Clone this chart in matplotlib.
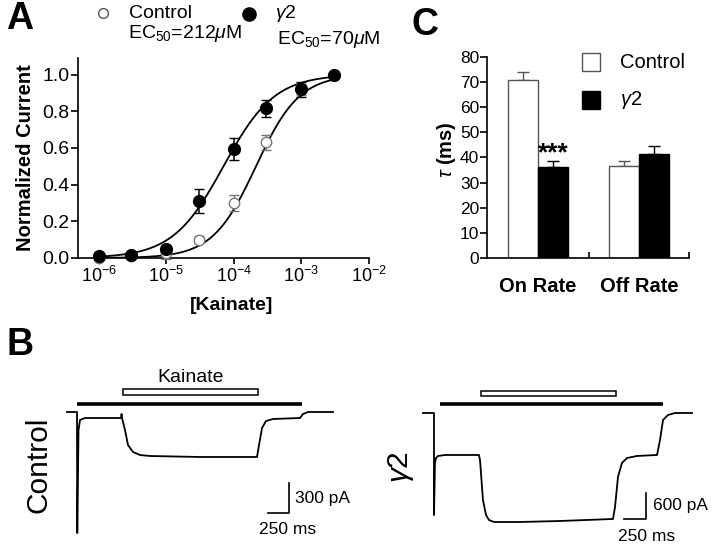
import numpy as np
import matplotlib
matplotlib.use("Agg")
import matplotlib.pyplot as plt
from matplotlib.patches import Rectangle
from matplotlib.lines import Line2D
from matplotlib.ticker import NullLocator, FormatStrFormatter

plt.rcParams['font.family'] = ['Liberation Sans', 'DejaVu Sans']
plt.rcParams['mathtext.fontset'] = 'custom'
plt.rcParams['mathtext.rm'] = 'Liberation Sans'
plt.rcParams['mathtext.it'] = 'Liberation Sans:italic'
plt.rcParams['mathtext.bf'] = 'Liberation Sans:bold'

# --- panel A: kainate concentration-response ---
conc = [1e-6, 3e-6, 1e-5, 3e-5, 1e-4, 3e-4, 1e-3, 3e-3]
ctrl_resp = [0.0, 0.01, 0.025, 0.10, 0.30, 0.63, 0.92, 1.0]
ctrl_err = [0.005, 0.005, 0.03, 0.02, 0.045, 0.04, 0.03, 0.0]
g2_resp = [0.01, 0.015, 0.05, 0.31, 0.595, 0.815, 0.92, 1.0]
g2_err = [0.005, 0.005, 0.01, 0.065, 0.06, 0.045, 0.04, 0.0]
ctrl_ec50, g2_ec50 = 212e-6, 70e-6
ctrl_hill, g2_hill = 1.35, 1.15

# --- panel C: time constants ---
rate_labels = ['On Rate', 'Off Rate']
tau_ctrl = [71.0, 36.8]
tau_ctrl_err = [3.2, 1.9]
tau_g2 = [36.1, 41.5]
tau_g2_err = [2.4, 3.1]

# --- panel B: example traces (ms, pA) ---
ctrl_t = [0, 119, 122, 137, 155, 214, 643, 649, 655, 690, 726, 785, 869, 988,
          1583, 2261, 2285, 2321, 2368, 2451, 2773, 2808, 2868, 3165]
ctrl_i = [0, 0, -1210, -180, -80, -60, -60, -20, -60, -180, -330, -400, -430, -440,
          -450, -450, -330, -160, -90, -70, -60, -20, 0, 0]
ctrl_perf = (119, 2797)
ctrl_kain = (666, 2273)

g2_t = [0, 127, 127, 138, 150, 173, 253, 645, 657, 691, 726, 760, 818, 1117,
        1578, 2189, 2212, 2246, 2292, 2350, 2465, 2696, 2730, 2765, 2822, 2903, 3099]
g2_i = [0, 0, -2354, -1154, -1039, -992, -969, -969, -1085, -2008, -2354, -2470, -2516, -2516,
        -2493, -2446, -2170, -1477, -1154, -1039, -992, -969, -623, -162, -46, 0, 0]
g2_perf = (196, 2765)
g2_kain = (668, 2223)

W, H = 720, 554


def fr(x0, y0, x1, y1):
    return [x0 / W, 1 - y1 / H, (x1 - x0) / W, (y1 - y0) / H]


def fp(x, y):
    return x / W, 1 - y / H


def hill(x, ec50, n):
    return 1.0 / (1.0 + (ec50 / x) ** n)


fig = plt.figure(figsize=(7.2, 5.54), dpi=100)

# panel A
axA = fig.add_axes(fr(78, 58, 369, 258))
axA.set_xscale('log')
xs = np.logspace(-6, np.log10(3e-3), 200)
axA.plot(xs, hill(xs, ctrl_ec50, ctrl_hill), color='black', lw=1.3, zorder=2)
axA.plot(xs, hill(xs, g2_ec50, g2_hill), color='black', lw=1.3, zorder=2)
axA.errorbar(conc, ctrl_resp, yerr=ctrl_err, fmt='o', mfc='white', mec='#777777',
             ecolor='#777777', ms=7.5, mew=1, capsize=3.5, elinewidth=1, zorder=3, clip_on=False)
axA.errorbar(conc, g2_resp, yerr=g2_err, fmt='o', mfc='black', mec='black',
             ecolor='black', ms=8.5, capsize=3.5, elinewidth=1.1, zorder=4, clip_on=False)
axA.set_xlim(10 ** -6.31, 1e-2)
axA.set_ylim(0, 1.09)
axA.set_xticks([1e-6, 1e-5, 1e-4, 1e-3, 1e-2])
axA.xaxis.set_minor_locator(NullLocator())
axA.set_yticks([0, 0.2, 0.4, 0.6, 0.8, 1.0])
axA.yaxis.set_major_formatter(FormatStrFormatter('%.1f'))
for s in ['top', 'right']:
    axA.spines[s].set_visible(False)
for s in ['left', 'bottom']:
    axA.spines[s].set_linewidth(1.2)
axA.tick_params(axis='y', direction='out', length=5, width=1.2, pad=1, labelsize=14)
axA.tick_params(axis='x', direction='out', length=4, width=1.2, pad=2, labelsize=13)

fig.text(*fp(20, 19), 'A', fontsize=27, fontweight='bold', ha='center', va='center')
fig.text(*fp(26, 158), 'Normalized Current', fontsize=14.5, fontweight='bold',
         rotation=90, ha='center', va='center')
fig.text(*fp(232, 306), '[Kainate]', fontsize=14, fontweight='bold', ha='center', va='center')

fig.add_artist(Line2D([103 / W], [1 - 13 / H], marker='o', ms=7, mfc='white',
                      mec='#555555', mew=1, transform=fig.transFigure))
fig.add_artist(Line2D([249 / W], [1 - 14 / H], marker='o', ms=9.5, mfc='black',
                      mec='black', transform=fig.transFigure))
fig.text(*fp(129, 13), 'Control', fontsize=14, ha='left', va='center')
fig.text(*fp(128, 33), r'EC$_{50}$=212$\mu$M', fontsize=14, ha='left', va='center')
fig.text(*fp(275, 14), r'$\gamma$2', fontsize=14, ha='left', va='center')
fig.text(*fp(277, 40), r'EC$_{50}$=70$\mu$M', fontsize=14, ha='left', va='center')

# panel C
axC = fig.add_axes(fr(487, 57, 689, 258))
xc = np.arange(len(rate_labels))
bw = 0.3
axC.bar(xc - bw / 2, tau_ctrl, bw, color='white', edgecolor='#555555', lw=1, zorder=2)
axC.bar(xc + bw / 2, tau_g2, bw, color='black', edgecolor='black', lw=1, zorder=2)
axC.errorbar(xc - bw / 2, tau_ctrl, yerr=[[0, 0], tau_ctrl_err], fmt='none',
             ecolor='#555555', capsize=4.3, elinewidth=1, zorder=1)
axC.errorbar(xc + bw / 2, tau_g2, yerr=[[0, 0], tau_g2_err], fmt='none',
             ecolor='black', capsize=4.3, elinewidth=1, zorder=1)
axC.text(xc[0] + bw / 2, tau_g2[0] + tau_g2_err[0] - 1.8, '***', fontsize=19,
         fontweight='bold', ha='center', va='bottom')
axC.set_xlim(-0.505, 1.495)
axC.set_ylim(0, 80)
axC.set_yticks(np.arange(0, 81, 10))
axC.set_xticks(xc)
axC.set_xticklabels(rate_labels, fontsize=14.5, fontweight='bold')
axC.set_xticks([0.5, 1.495], minor=True)
axC.tick_params(axis='x', which='major', length=0, pad=14)
axC.tick_params(axis='x', which='minor', direction='in', length=4, width=1.2)
axC.tick_params(axis='y', direction='out', length=5, width=1.2, pad=0.5, labelsize=12.5)
for s in ['top', 'right']:
    axC.spines[s].set_visible(False)
for s in ['left', 'bottom']:
    axC.spines[s].set_linewidth(1.2)
fig.text(*fp(446, 150), r'$\tau$ (ms)', fontsize=14.5, fontweight='bold',
         rotation=90, ha='center', va='center')
fig.text(*fp(425, 25), 'C', fontsize=27, fontweight='bold', ha='center', va='center')

fig.add_artist(Rectangle(fp(582, 71), 18 / W, 18 / H, facecolor='white',
                         edgecolor='#555555', lw=1, transform=fig.transFigure))
fig.add_artist(Rectangle(fp(582, 109), 18 / W, 18 / H, facecolor='black',
                         edgecolor='black', lw=1, transform=fig.transFigure))
fig.text(*fp(620, 62), 'Control', fontsize=14.5, ha='left', va='center')
fig.text(*fp(620, 100), r'$\gamma$2', fontsize=14.5, ha='left', va='center')

# panel B
fig.text(*fp(20, 345), 'B', fontsize=27, fontweight='bold', ha='center', va='center')

axB1 = fig.add_axes(fr(60, 365, 350, 545))
axB1.set_xlim(-83.3, 3367.7)
axB1.set_ylim(-1330, 470)
axB1.axis('off')
axB1.plot(ctrl_t, ctrl_i, color='black', lw=1.3)
axB1.plot(ctrl_perf, [80, 80], color='black', lw=2.6, solid_capstyle='butt')
axB1.add_patch(Rectangle((ctrl_kain[0], 170), ctrl_kain[1] - ctrl_kain[0], 60,
                         facecolor='white', edgecolor='black', lw=1.1))
axB1.text(sum(ctrl_kain) / 2, 340, 'Kainate', fontsize=14, ha='center', va='center')
axB1.plot([2392, 2642, 2642], [-1010, -1010, -710], color='black', lw=1.2)
axB1.text(2713, -870, '300 pA', fontsize=12.5, ha='left', va='center')
axB1.text(2630, -1180, '250 ms', fontsize=12.5, ha='center', va='center')
fig.text(*fp(39, 465), 'Control', fontsize=21.5, rotation=90, ha='center', va='center')

axB2 = fig.add_axes(fr(380, 365, 710, 545))
axB2.set_xlim(-495, 3306)
axB2.set_ylim(-3047, 1108)
axB2.axis('off')
axB2.plot(g2_t, g2_i, color='black', lw=1.3)
axB2.plot(g2_perf, [208, 208], color='black', lw=2.6, solid_capstyle='butt')
axB2.add_patch(Rectangle((g2_kain[0], 392), g2_kain[1] - g2_kain[0], 116,
                         facecolor='white', edgecolor='black', lw=1.1))
axB2.plot([2319, 2569, 2569], [-2446, -2446, -1846], color='black', lw=1.2)
axB2.text(2650, -2146, '600 pA', fontsize=12.5, ha='left', va='center')
axB2.text(2580, -2862, '250 ms', fontsize=12.5, ha='center', va='center')
fig.text(*fp(401, 467), r'$\gamma$2', fontsize=21.5, rotation=90, ha='center', va='center')

fig.savefig('out.png', dpi=100)
